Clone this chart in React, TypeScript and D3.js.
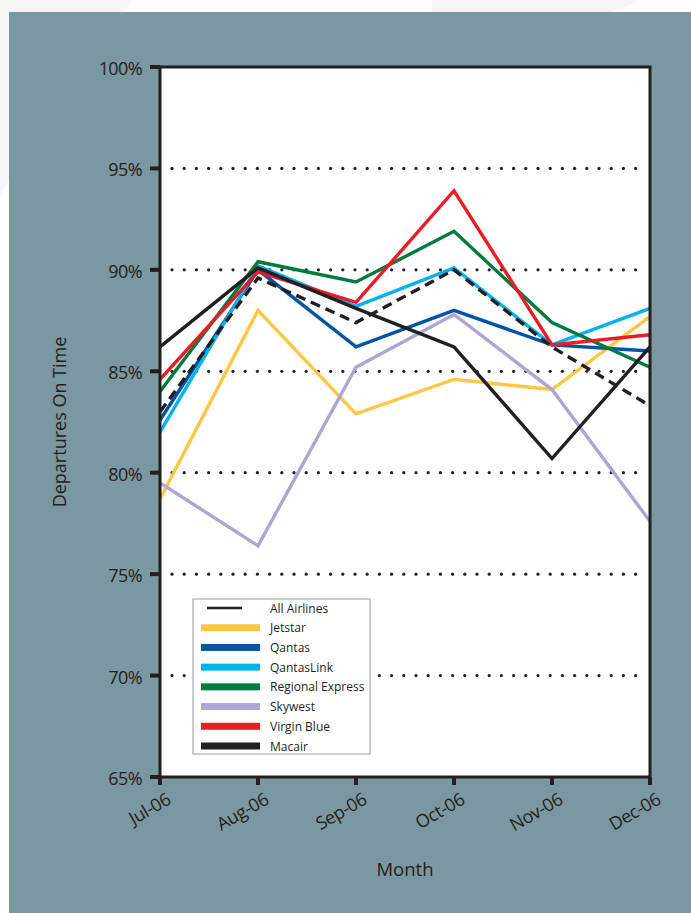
import { useEffect, useRef } from "react"
import * as d3 from "d3"

// Months on the x axis
const months = ["Jul-06", "Aug-06", "Sep-06", "Oct-06", "Nov-06", "Dec-06"]

// On-time departures (%) per airline
const allAirlines = [83.0, 89.6, 87.4, 90.0, 86.2, 83.3]
const jetstar = [78.7, 88.0, 82.9, 84.6, 84.1, 87.7]
const qantas = [82.6, 90.0, 86.2, 88.0, 86.3, 86.0]
const qantasLink = [82.0, 90.2, 88.2, 90.1, 86.3, 88.1]
const regionalExpress = [84.0, 90.4, 89.4, 91.9, 87.4, 85.2]
const skywest = [79.5, 76.4, 85.2, 87.8, 84.1, 77.6]
const virginBlue = [84.6, 89.9, 88.4, 93.9, 86.3, 86.8]
const macair = [86.2, 90.1, 88.1, 86.2, 80.7, 86.2]

const yTicks = [65, 70, 75, 80, 85, 90, 95, 100]
const gridTicks = [70, 75, 80, 85, 90, 95]

const series = [
  { name: "Jetstar", values: jetstar, color: "#fdc743" },
  { name: "Qantas", values: qantas, color: "#0054a3" },
  { name: "QantasLink", values: qantasLink, color: "#00b3ed" },
  { name: "Regional Express", values: regionalExpress, color: "#007b3e" },
  { name: "Skywest", values: skywest, color: "#aba6d3" },
  { name: "Virgin Blue", values: virginBlue, color: "#ec1c24" },
  { name: "Macair", values: macair, color: "#231f20" },
]

const FONT = "'Open Sans', 'Noto Sans', sans-serif"
const INK = "#231f20"

export default function App() {
  const svgRef = useRef<SVGSVGElement>(null)

  useEffect(() => {
    if (!svgRef.current) return
    const W = 691
    const H = 913
    const svg = d3.select(svgRef.current)
    svg.selectAll("*").remove()
    svg.attr("width", W).attr("height", H)

    // page background
    svg.append("rect").attr("width", W).attr("height", H).attr("fill", "#ffffff")
    svg.append("path").attr("d", "M0,0 L132,0 L124,12 L9,12 L9,180 L0,195 Z").attr("fill", "#f5f5f5")
    svg.append("path").attr("d", "M432,0 L640,0 Q625,8 608,12 L432,12 Z").attr("fill", "#f5f5f5")
    svg.append("rect").attr("x", 9).attr("y", 12).attr("width", W - 9).attr("height", H - 12).attr("fill", "#7b97a1")

    const left = 160
    const right = 650
    const top = 67
    const bottom = 777

    const x = d3.scalePoint<string>().domain(months).range([left, right])
    const y = d3.scaleLinear().domain([65, 100]).range([bottom, top])

    // plot area
    svg.append("rect")
      .attr("x", left).attr("y", top)
      .attr("width", right - left).attr("height", bottom - top)
      .attr("fill", "#ffffff")

    // dotted gridlines
    const g = svg.append("g")
    gridTicks.forEach((t) => {
      const dots = d3.range(left + 12, right - 4, 12.2)
      g.selectAll(null)
        .data(dots)
        .join("circle")
        .attr("cx", (d) => d)
        .attr("cy", y(t))
        .attr("r", 1.6)
        .attr("fill", INK)
    })

    // legend
    const lx = 193
    const ly = 599
    const lw = 177
    const lh = 155
    svg.append("rect")
      .attr("x", lx).attr("y", ly).attr("width", lw).attr("height", lh)
      .attr("fill", "#ffffff").attr("stroke", "#9a9a9a").attr("stroke-width", 1)

    const legendItems = [{ name: "All Airlines", color: INK }, ...series]
    const rowY = d3.scaleLinear().domain([0, legendItems.length - 1]).range([608, 746])
    legendItems.forEach((s, i) => {
      const cy = rowY(i)
      if (i === 0) {
        svg.append("line")
          .attr("x1", 207).attr("x2", 242).attr("y1", cy).attr("y2", cy)
          .attr("stroke", INK).attr("stroke-width", 2.4)
      } else {
        svg.append("rect")
          .attr("x", 201).attr("y", cy - 3.5).attr("width", 59).attr("height", 7)
          .attr("fill", s.color)
      }
      svg.append("text")
        .attr("x", 270).attr("y", cy)
        .attr("dominant-baseline", "central")
        .attr("font-family", FONT).attr("font-size", 12)
        .attr("fill", INK)
        .text(s.name)
    })

    // lines
    const line = d3.line<number>()
      .x((_, i) => x(months[i]) as number)
      .y((d) => y(d))

    series.forEach((s) => {
      svg.append("path")
        .attr("d", line(s.values))
        .attr("fill", "none")
        .attr("stroke", s.color)
        .attr("stroke-width", 3.4)
        .attr("stroke-linejoin", "miter")
    })
    svg.append("path")
      .attr("d", line(allAirlines))
      .attr("fill", "none")
      .attr("stroke", INK)
      .attr("stroke-width", 3.4)
      .attr("stroke-dasharray", "10,6")

    // frame
    svg.append("rect")
      .attr("x", left).attr("y", top)
      .attr("width", right - left).attr("height", bottom - top)
      .attr("fill", "none").attr("stroke", INK).attr("stroke-width", 3)

    // y axis ticks + labels
    yTicks.forEach((t) => {
      svg.append("line")
        .attr("x1", left - 10).attr("x2", left).attr("y1", y(t)).attr("y2", y(t))
        .attr("stroke", INK).attr("stroke-width", 4)
      svg.append("text")
        .attr("x", 142).attr("y", y(t) + 1)
        .attr("text-anchor", "end")
        .attr("dominant-baseline", "central")
        .attr("font-family", FONT).attr("font-size", 18)
        .attr("letter-spacing", -0.6)
        .attr("fill", INK)
        .text(`${t}%`)
    })

    // x axis ticks + labels
    months.forEach((m) => {
      const px = x(m) as number
      svg.append("line")
        .attr("x1", px).attr("x2", px).attr("y1", bottom).attr("y2", bottom + 8)
        .attr("stroke", INK).attr("stroke-width", 4)
      svg.append("text")
        .attr("transform", `translate(${px + 12},${bottom + 26}) rotate(-30)`)
        .attr("text-anchor", "end")
        .attr("font-family", FONT).attr("font-size", 18)
        .attr("letter-spacing", -0.4)
        .attr("fill", INK)
        .text(m)
    })

    // axis titles
    svg.append("text")
      .attr("x", 405).attr("y", 876)
      .attr("text-anchor", "middle")
      .attr("font-family", FONT).attr("font-size", 18.5)
      .attr("fill", INK)
      .text("Month")

    svg.append("text")
      .attr("transform", `translate(66,422) rotate(-90)`)
      .attr("text-anchor", "middle")
      .attr("font-family", FONT).attr("font-size", 18)
      .attr("fill", INK)
      .text("Departures On Time")
  }, [])

  return (
    <div style={{ position: "absolute", left: 0, top: 0 }}>
      <svg ref={svgRef} style={{ display: "block" }}></svg>
    </div>
  )
}
